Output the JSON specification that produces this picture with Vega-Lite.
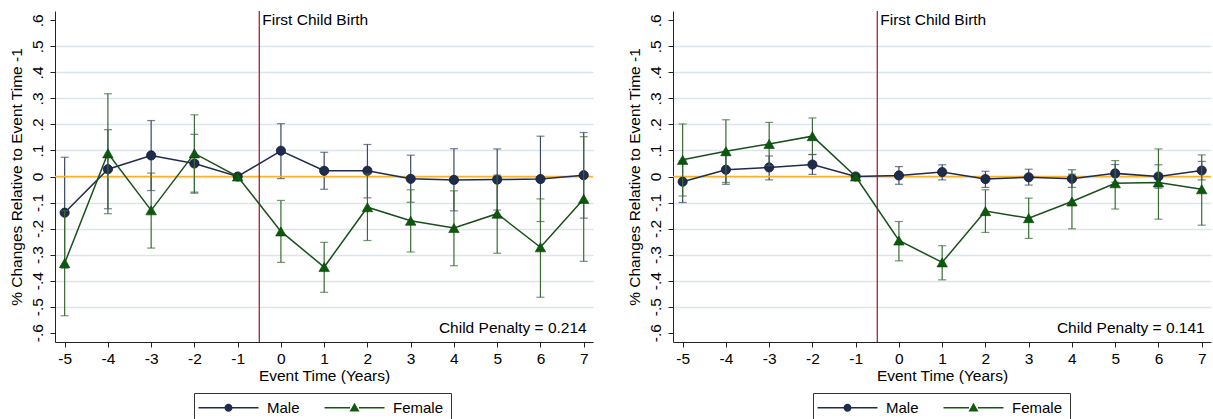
{
  "$schema": "https://vega.github.io/schema/vega-lite/v6.json",
  "padding": {"left": 9, "top": 10, "right": 5, "bottom": 0},
  "background": "white",
  "config": {
    "view": {"stroke": null},
    "font": "Liberation Sans",
    "axis": {
      "domainColor": "#222", "tickColor": "#222", "domainWidth": 1, "tickWidth": 1, "tickSize": 5,
      "labelFont": "Liberation Sans", "labelFontSize": 15.5, "labelColor": "#000", "labelOverlap": false,
      "titleFont": "Liberation Sans", "titleFontSize": 15.5, "titleFontWeight": "normal", "titleColor": "#000"
    },
    "legend": {
      "title": null, "orient": "none", "legendY": 382, "direction": "horizontal", "strokeColor": "#333", "padding": 7,
      "symbolSize": 100, "symbolOffset": 20, "labelOffset": 31, "columnPadding": 24,
      "labelFont": "Liberation Sans", "labelFontSize": 15, "labelColor": "#000", "symbolOpacity": 1, "symbolStrokeWidth": 0
    }
  },
  "datasets": {
    "est": [
      {"panel": "A", "sex": "Male", "t": -5, "est": -0.139, "lo": -0.352, "hi": 0.074},
      {"panel": "A", "sex": "Male", "t": -4, "est": 0.028, "lo": -0.124, "hi": 0.18},
      {"panel": "A", "sex": "Male", "t": -3, "est": 0.081, "lo": -0.054, "hi": 0.215},
      {"panel": "A", "sex": "Male", "t": -2, "est": 0.05, "lo": -0.064, "hi": 0.162},
      {"panel": "A", "sex": "Male", "t": -1, "est": 0, "lo": null, "hi": null},
      {"panel": "A", "sex": "Male", "t": 0, "est": 0.099, "lo": -0.008, "hi": 0.203},
      {"panel": "A", "sex": "Male", "t": 1, "est": 0.022, "lo": -0.049, "hi": 0.093},
      {"panel": "A", "sex": "Male", "t": 2, "est": 0.022, "lo": -0.082, "hi": 0.123},
      {"panel": "A", "sex": "Male", "t": 3, "est": -0.009, "lo": -0.099, "hi": 0.082},
      {"panel": "A", "sex": "Male", "t": 4, "est": -0.013, "lo": -0.132, "hi": 0.107},
      {"panel": "A", "sex": "Male", "t": 5, "est": -0.012, "lo": -0.129, "hi": 0.106},
      {"panel": "A", "sex": "Male", "t": 6, "est": -0.01, "lo": -0.173, "hi": 0.155},
      {"panel": "A", "sex": "Male", "t": 7, "est": 0.005, "lo": -0.16, "hi": 0.169},
      {"panel": "A", "sex": "Female", "t": -5, "est": -0.333, "lo": -0.535, "hi": -0.131},
      {"panel": "A", "sex": "Female", "t": -4, "est": 0.089, "lo": -0.143, "hi": 0.318},
      {"panel": "A", "sex": "Female", "t": -3, "est": -0.13, "lo": -0.275, "hi": 0.013},
      {"panel": "A", "sex": "Female", "t": -2, "est": 0.089, "lo": -0.06, "hi": 0.237},
      {"panel": "A", "sex": "Female", "t": -1, "est": 0, "lo": null, "hi": null},
      {"panel": "A", "sex": "Female", "t": 0, "est": -0.211, "lo": -0.33, "hi": -0.092},
      {"panel": "A", "sex": "Female", "t": 1, "est": -0.348, "lo": -0.445, "hi": -0.253},
      {"panel": "A", "sex": "Female", "t": 2, "est": -0.118, "lo": -0.246, "hi": 0.01},
      {"panel": "A", "sex": "Female", "t": 3, "est": -0.17, "lo": -0.29, "hi": -0.051},
      {"panel": "A", "sex": "Female", "t": 4, "est": -0.198, "lo": -0.343, "hi": -0.055},
      {"panel": "A", "sex": "Female", "t": 5, "est": -0.143, "lo": -0.295, "hi": 0.005},
      {"panel": "A", "sex": "Female", "t": 6, "est": -0.272, "lo": -0.464, "hi": -0.086},
      {"panel": "A", "sex": "Female", "t": 7, "est": -0.086, "lo": -0.326, "hi": 0.153},
      {"panel": "B", "sex": "Male", "t": -5, "est": -0.02, "lo": -0.1, "hi": 0.06},
      {"panel": "B", "sex": "Male", "t": -4, "est": 0.026, "lo": -0.03, "hi": 0.082},
      {"panel": "B", "sex": "Male", "t": -3, "est": 0.035, "lo": -0.013, "hi": 0.079},
      {"panel": "B", "sex": "Male", "t": -2, "est": 0.046, "lo": 0.008, "hi": 0.084},
      {"panel": "B", "sex": "Male", "t": -1, "est": 0, "lo": null, "hi": null},
      {"panel": "B", "sex": "Male", "t": 0, "est": 0.004, "lo": -0.03, "hi": 0.038},
      {"panel": "B", "sex": "Male", "t": 1, "est": 0.017, "lo": -0.013, "hi": 0.045},
      {"panel": "B", "sex": "Male", "t": 2, "est": -0.01, "lo": -0.042, "hi": 0.02},
      {"panel": "B", "sex": "Male", "t": 3, "est": -0.003, "lo": -0.033, "hi": 0.028},
      {"panel": "B", "sex": "Male", "t": 4, "est": -0.009, "lo": -0.042, "hi": 0.026},
      {"panel": "B", "sex": "Male", "t": 5, "est": 0.012, "lo": -0.022, "hi": 0.046},
      {"panel": "B", "sex": "Male", "t": 6, "est": 0.0, "lo": -0.045, "hi": 0.045},
      {"panel": "B", "sex": "Male", "t": 7, "est": 0.023, "lo": -0.013, "hi": 0.058},
      {"panel": "B", "sex": "Female", "t": -5, "est": 0.064, "lo": -0.075, "hi": 0.202},
      {"panel": "B", "sex": "Female", "t": -4, "est": 0.097, "lo": -0.023, "hi": 0.218},
      {"panel": "B", "sex": "Female", "t": -3, "est": 0.125, "lo": 0.042, "hi": 0.208},
      {"panel": "B", "sex": "Female", "t": -2, "est": 0.155, "lo": 0.085, "hi": 0.225},
      {"panel": "B", "sex": "Female", "t": -1, "est": 0, "lo": null, "hi": null},
      {"panel": "B", "sex": "Female", "t": 0, "est": -0.246, "lo": -0.324, "hi": -0.173},
      {"panel": "B", "sex": "Female", "t": 1, "est": -0.33, "lo": -0.397, "hi": -0.266},
      {"panel": "B", "sex": "Female", "t": 2, "est": -0.133, "lo": -0.215, "hi": -0.051},
      {"panel": "B", "sex": "Female", "t": 3, "est": -0.16, "lo": -0.238, "hi": -0.083},
      {"panel": "B", "sex": "Female", "t": 4, "est": -0.096, "lo": -0.201, "hi": 0.009},
      {"panel": "B", "sex": "Female", "t": 5, "est": -0.026, "lo": -0.125, "hi": 0.061},
      {"panel": "B", "sex": "Female", "t": 6, "est": -0.023, "lo": -0.164, "hi": 0.106},
      {"panel": "B", "sex": "Female", "t": 7, "est": -0.049, "lo": -0.187, "hi": 0.083}
    ],
    "notes": [
      {"panel": "A", "penalty": "Child Penalty = 0.214", "event": "First Child Birth"},
      {"panel": "B", "penalty": "Child Penalty = 0.141", "event": "First Child Birth"}
    ]
  },
  "resolve": {"scale": {"color": "independent", "shape": "independent"}, "legend": {"color": "independent", "shape": "independent"}},
  "spacing": 33,
  "hconcat": [
    {
      "width": 538, "height": 331,
      "data": {"name": "est"},
      "transform": [{"filter": "datum.panel === 'A'"}],
      "layer": [
        {"transform": [{"filter": "datum.sex === 'Male' && isValid(datum.lo)"}],
         "mark": {"type": "rule", "color": "#3c4864", "strokeWidth": 1.2},
         "encoding": {
           "x": {"field": "t", "type": "quantitative", "scale": {"domain": [-5.223, 7.215], "nice": false, "zero": false},
             "axis": {"values": [-5, -4, -3, -2, -1, 0, 1, 2, 3, 4, 5, 6, 7], "tickCount": 13, "grid": false, "labelPadding": 4, "labelExpr": "(datum.value < 0 ? '-' : '') + toString(abs(datum.value))", "title": "Event Time (Years)", "titlePadding": 2}},
           "y": {"field": "lo", "type": "quantitative", "scale": {"domain": [-0.636, 0.636], "nice": false, "zero": false},
             "axis": {"values": [-0.6, -0.5, -0.4, -0.3, -0.2, -0.1, 0, 0.1, 0.2, 0.3, 0.4, 0.5, 0.6], "tickCount": 13, "labelAngle": -90, "labelAlign": "center", "labelBaseline": "bottom", "labelPadding": 5,
               "labelExpr": "abs(datum.value) < 0.001 ? '0' : (datum.value < 0 ? '-' : '') + '.' + toString(round(abs(datum.value) * 10))",
               "grid": true, "gridColor": {"condition": {"test": "abs(datum.value) > 0.55", "value": "transparent"}, "value": "#dce5ec"}, "gridWidth": 1.3,
               "title": "% Changes Relative to Event Time -1", "titlePadding": 6}},
           "y2": {"field": "hi"}}},
        {"data": {"name": "notes"}, "transform": [{"filter": "datum.panel === 'A'"}],
         "mark": {"type": "rule", "color": "#f7b32b", "strokeWidth": 1.5},
         "encoding": {"y": {"datum": 0, "type": "quantitative"}}},
        {"data": {"name": "notes"}, "transform": [{"filter": "datum.panel === 'A'"}],
         "mark": {"type": "rule", "color": "#a3262d", "strokeWidth": 1.3},
         "encoding": {"x": {"datum": -0.5, "type": "quantitative"}}},
        {"data": {"name": "notes"}, "transform": [{"filter": "datum.panel === 'A'"}],
         "mark": {"type": "text", "align": "left", "baseline": "middle", "dx": 3, "fontSize": 15.5, "color": "#000"},
         "encoding": {"x": {"datum": -0.5, "type": "quantitative"}, "y": {"datum": 0.6, "type": "quantitative"}, "text": {"field": "event"}}},
        {"data": {"name": "notes"}, "transform": [{"filter": "datum.panel === 'A'"}],
         "mark": {"type": "text", "align": "right", "baseline": "middle", "dx": 3, "fontSize": 15.5, "color": "#000"},
         "encoding": {"x": {"datum": 7, "type": "quantitative"}, "y": {"datum": -0.582, "type": "quantitative"}, "text": {"field": "penalty"}}},
        {"transform": [{"filter": "datum.sex === 'Male' && isValid(datum.lo)"}],
         "mark": {"type": "tick", "orient": "horizontal", "color": "#3c4864", "size": 8, "thickness": 1.2},
         "encoding": {"x": {"field": "t", "type": "quantitative"}, "y": {"field": "lo", "type": "quantitative"}}},
        {"transform": [{"filter": "datum.sex === 'Male' && isValid(datum.lo)"}],
         "mark": {"type": "tick", "orient": "horizontal", "color": "#3c4864", "size": 8, "thickness": 1.2},
         "encoding": {"x": {"field": "t", "type": "quantitative"}, "y": {"field": "hi", "type": "quantitative"}}},
        {"transform": [{"filter": "datum.sex === 'Male'"}],
         "mark": {"type": "line", "color": "#1f2c4e", "strokeWidth": 1.5},
         "encoding": {"x": {"field": "t", "type": "quantitative"}, "y": {"field": "est", "type": "quantitative"}}},
        {"transform": [{"filter": "datum.sex === 'Male'"}],
         "mark": {"type": "point", "shape": "circle", "filled": true, "size": 85, "color": "#1f2c4e", "opacity": 1, "stroke": "#111a33", "strokeWidth": 0.8},
         "encoding": {"x": {"field": "t", "type": "quantitative"}, "y": {"field": "est", "type": "quantitative"}}},
        {"transform": [{"filter": "datum.sex === 'Female' && isValid(datum.lo)"}],
         "mark": {"type": "rule", "color": "#3b6a35", "strokeWidth": 1.2},
         "encoding": {"x": {"field": "t", "type": "quantitative"}, "y": {"field": "lo", "type": "quantitative"}, "y2": {"field": "hi"}}},
        {"transform": [{"filter": "datum.sex === 'Female' && isValid(datum.lo)"}],
         "mark": {"type": "tick", "orient": "horizontal", "color": "#3b6a35", "size": 8, "thickness": 1.2},
         "encoding": {"x": {"field": "t", "type": "quantitative"}, "y": {"field": "lo", "type": "quantitative"}}},
        {"transform": [{"filter": "datum.sex === 'Female' && isValid(datum.lo)"}],
         "mark": {"type": "tick", "orient": "horizontal", "color": "#3b6a35", "size": 8, "thickness": 1.2},
         "encoding": {"x": {"field": "t", "type": "quantitative"}, "y": {"field": "hi", "type": "quantitative"}}},
        {"transform": [{"filter": "datum.sex === 'Female'"}],
         "mark": {"type": "line", "color": "#19501a", "strokeWidth": 1.5},
         "encoding": {"x": {"field": "t", "type": "quantitative"}, "y": {"field": "est", "type": "quantitative"}}},
        {"transform": [{"filter": "datum.sex === 'Female'"}],
         "mark": {"type": "point", "shape": "triangle-up", "filled": true, "size": 110, "color": "#0b5a0b", "opacity": 1, "stroke": "#0a400a", "strokeWidth": 0.6},
         "encoding": {"x": {"field": "t", "type": "quantitative"}, "y": {"field": "est", "type": "quantitative"}}},
        {"transform": [{"filter": "datum.t > 99"}],
         "mark": {"type": "point", "filled": true},
         "encoding": {
           "x": {"field": "t", "type": "quantitative"}, "y": {"field": "est", "type": "quantitative"},
           "color": {"field": "sex", "type": "nominal", "scale": {"domain": ["Male", "Female"], "range": ["#1f2c4e", "#0e5a0e"]}, "legend": {"legendX": 139}},
           "shape": {"field": "sex", "type": "nominal", "scale": {"domain": ["Male", "Female"], "range": ["M-6,-0.14L-0.75,-0.14L-0.75,0.14L-6,0.14ZM0.75,-0.14L6,-0.14L6,0.14L0.75,0.14ZM0.8,0A0.8,0.8,0,1,1,-0.8,0A0.8,0.8,0,1,1,0.8,0Z", "M-6,-0.14L-0.9,-0.14L-0.9,0.14L-6,0.14ZM0.9,-0.14L6,-0.14L6,0.14L0.9,0.14ZM-1,0.75L0,-1L1,0.75Z"]}, "legend": {"legendX": 139}}
         }}
      ]
    },
    {
      "width": 538, "height": 331,
      "data": {"name": "est"},
      "transform": [{"filter": "datum.panel === 'B'"}],
      "layer": [
        {"transform": [{"filter": "datum.sex === 'Male' && isValid(datum.lo)"}],
         "mark": {"type": "rule", "color": "#3c4864", "strokeWidth": 1.2},
         "encoding": {
           "x": {"field": "t", "type": "quantitative", "scale": {"domain": [-5.223, 7.215], "nice": false, "zero": false},
             "axis": {"values": [-5, -4, -3, -2, -1, 0, 1, 2, 3, 4, 5, 6, 7], "tickCount": 13, "grid": false, "labelPadding": 4, "labelExpr": "(datum.value < 0 ? '-' : '') + toString(abs(datum.value))", "title": "Event Time (Years)", "titlePadding": 2}},
           "y": {"field": "lo", "type": "quantitative", "scale": {"domain": [-0.636, 0.636], "nice": false, "zero": false},
             "axis": {"values": [-0.6, -0.5, -0.4, -0.3, -0.2, -0.1, 0, 0.1, 0.2, 0.3, 0.4, 0.5, 0.6], "tickCount": 13, "labelAngle": -90, "labelAlign": "center", "labelBaseline": "bottom", "labelPadding": 5,
               "labelExpr": "abs(datum.value) < 0.001 ? '0' : (datum.value < 0 ? '-' : '') + '.' + toString(round(abs(datum.value) * 10))",
               "grid": true, "gridColor": {"condition": {"test": "abs(datum.value) > 0.55", "value": "transparent"}, "value": "#dce5ec"}, "gridWidth": 1.3,
               "title": "% Changes Relative to Event Time -1", "titlePadding": 6}},
           "y2": {"field": "hi"}}},
        {"data": {"name": "notes"}, "transform": [{"filter": "datum.panel === 'B'"}],
         "mark": {"type": "rule", "color": "#f7b32b", "strokeWidth": 1.5},
         "encoding": {"y": {"datum": 0, "type": "quantitative"}}},
        {"data": {"name": "notes"}, "transform": [{"filter": "datum.panel === 'B'"}],
         "mark": {"type": "rule", "color": "#a3262d", "strokeWidth": 1.3},
         "encoding": {"x": {"datum": -0.5, "type": "quantitative"}}},
        {"data": {"name": "notes"}, "transform": [{"filter": "datum.panel === 'B'"}],
         "mark": {"type": "text", "align": "left", "baseline": "middle", "dx": 3, "fontSize": 15.5, "color": "#000"},
         "encoding": {"x": {"datum": -0.5, "type": "quantitative"}, "y": {"datum": 0.6, "type": "quantitative"}, "text": {"field": "event"}}},
        {"data": {"name": "notes"}, "transform": [{"filter": "datum.panel === 'B'"}],
         "mark": {"type": "text", "align": "right", "baseline": "middle", "dx": 3, "fontSize": 15.5, "color": "#000"},
         "encoding": {"x": {"datum": 7, "type": "quantitative"}, "y": {"datum": -0.582, "type": "quantitative"}, "text": {"field": "penalty"}}},
        {"transform": [{"filter": "datum.sex === 'Male' && isValid(datum.lo)"}],
         "mark": {"type": "tick", "orient": "horizontal", "color": "#3c4864", "size": 8, "thickness": 1.2},
         "encoding": {"x": {"field": "t", "type": "quantitative"}, "y": {"field": "lo", "type": "quantitative"}}},
        {"transform": [{"filter": "datum.sex === 'Male' && isValid(datum.lo)"}],
         "mark": {"type": "tick", "orient": "horizontal", "color": "#3c4864", "size": 8, "thickness": 1.2},
         "encoding": {"x": {"field": "t", "type": "quantitative"}, "y": {"field": "hi", "type": "quantitative"}}},
        {"transform": [{"filter": "datum.sex === 'Male'"}],
         "mark": {"type": "line", "color": "#1f2c4e", "strokeWidth": 1.5},
         "encoding": {"x": {"field": "t", "type": "quantitative"}, "y": {"field": "est", "type": "quantitative"}}},
        {"transform": [{"filter": "datum.sex === 'Male'"}],
         "mark": {"type": "point", "shape": "circle", "filled": true, "size": 85, "color": "#1f2c4e", "opacity": 1, "stroke": "#111a33", "strokeWidth": 0.8},
         "encoding": {"x": {"field": "t", "type": "quantitative"}, "y": {"field": "est", "type": "quantitative"}}},
        {"transform": [{"filter": "datum.sex === 'Female' && isValid(datum.lo)"}],
         "mark": {"type": "rule", "color": "#3b6a35", "strokeWidth": 1.2},
         "encoding": {"x": {"field": "t", "type": "quantitative"}, "y": {"field": "lo", "type": "quantitative"}, "y2": {"field": "hi"}}},
        {"transform": [{"filter": "datum.sex === 'Female' && isValid(datum.lo)"}],
         "mark": {"type": "tick", "orient": "horizontal", "color": "#3b6a35", "size": 8, "thickness": 1.2},
         "encoding": {"x": {"field": "t", "type": "quantitative"}, "y": {"field": "lo", "type": "quantitative"}}},
        {"transform": [{"filter": "datum.sex === 'Female' && isValid(datum.lo)"}],
         "mark": {"type": "tick", "orient": "horizontal", "color": "#3b6a35", "size": 8, "thickness": 1.2},
         "encoding": {"x": {"field": "t", "type": "quantitative"}, "y": {"field": "hi", "type": "quantitative"}}},
        {"transform": [{"filter": "datum.sex === 'Female'"}],
         "mark": {"type": "line", "color": "#19501a", "strokeWidth": 1.5},
         "encoding": {"x": {"field": "t", "type": "quantitative"}, "y": {"field": "est", "type": "quantitative"}}},
        {"transform": [{"filter": "datum.sex === 'Female'"}],
         "mark": {"type": "point", "shape": "triangle-up", "filled": true, "size": 110, "color": "#0b5a0b", "opacity": 1, "stroke": "#0a400a", "strokeWidth": 0.6},
         "encoding": {"x": {"field": "t", "type": "quantitative"}, "y": {"field": "est", "type": "quantitative"}}},
        {"transform": [{"filter": "datum.t > 99"}],
         "mark": {"type": "point", "filled": true},
         "encoding": {
           "x": {"field": "t", "type": "quantitative"}, "y": {"field": "est", "type": "quantitative"},
           "color": {"field": "sex", "type": "nominal", "scale": {"domain": ["Male", "Female"], "range": ["#1f2c4e", "#0e5a0e"]}, "legend": {"legendX": 140}},
           "shape": {"field": "sex", "type": "nominal", "scale": {"domain": ["Male", "Female"], "range": ["M-6,-0.14L-0.75,-0.14L-0.75,0.14L-6,0.14ZM0.75,-0.14L6,-0.14L6,0.14L0.75,0.14ZM0.8,0A0.8,0.8,0,1,1,-0.8,0A0.8,0.8,0,1,1,0.8,0Z", "M-6,-0.14L-0.9,-0.14L-0.9,0.14L-6,0.14ZM0.9,-0.14L6,-0.14L6,0.14L0.9,0.14ZM-1,0.75L0,-1L1,0.75Z"]}, "legend": {"legendX": 140}}
         }}
      ]
    }
  ]
}
